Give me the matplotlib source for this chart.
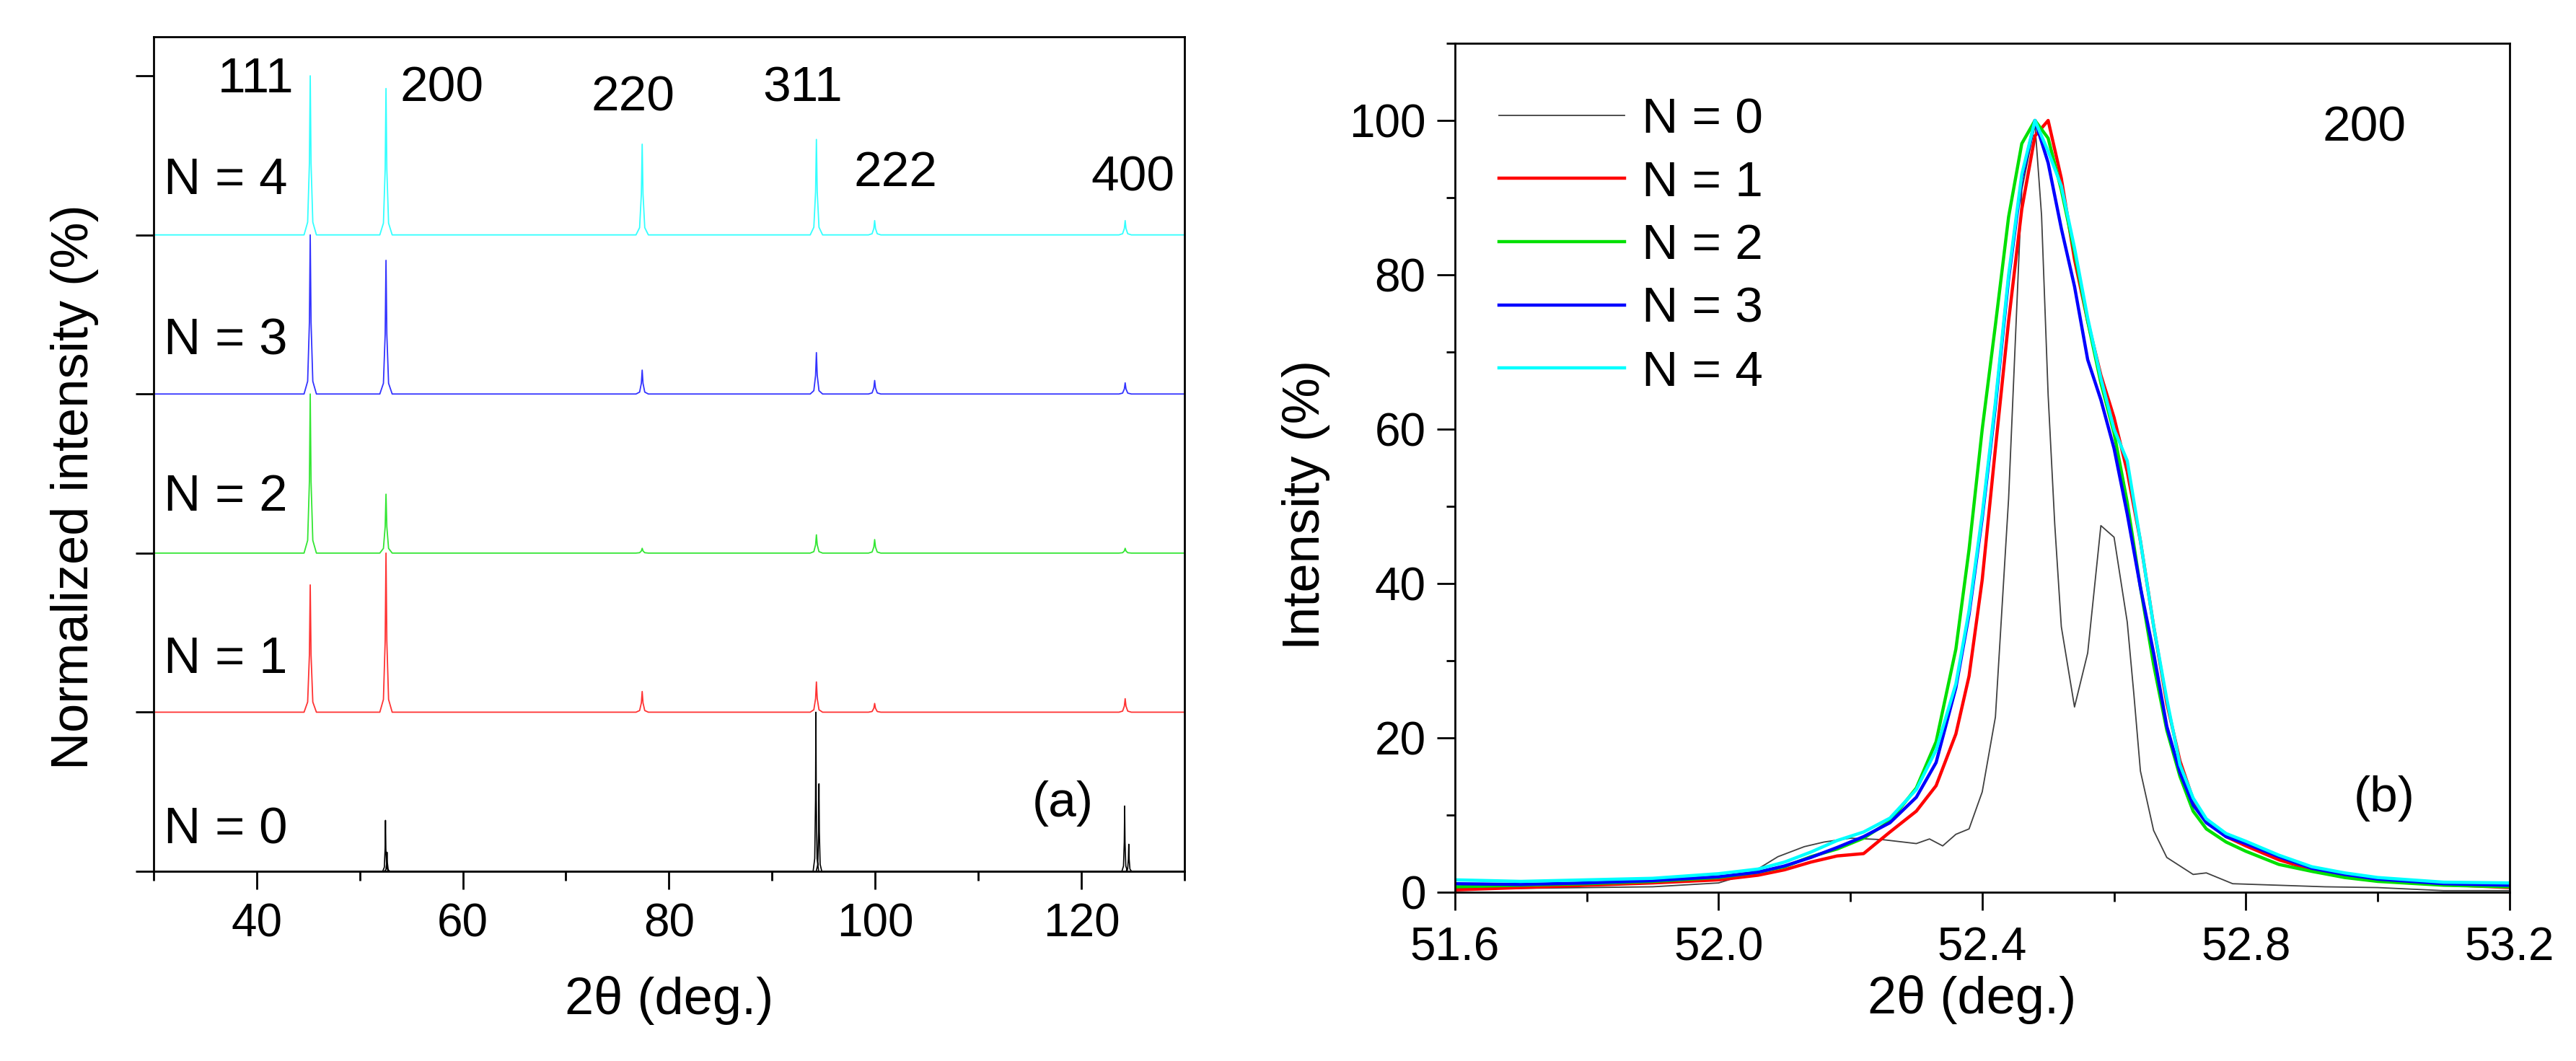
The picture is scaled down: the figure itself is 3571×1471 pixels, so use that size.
import numpy as np
import matplotlib
matplotlib.use("Agg")
import matplotlib.pyplot as plt
from matplotlib.ticker import MultipleLocator, FormatStrFormatter

plt.rcParams["font.family"] = ["Liberation Sans", "DejaVu Sans"]

# ---------------- data: panel (a) ----------------
labels_n = ["N = 0", "N = 1", "N = 2", "N = 3", "N = 4"]
offsets = [0, 100, 200, 300, 400]
hkl = ["111", "200", "220", "311", "222", "400"]
peak_pos = [45.2, 52.55, 77.4, 94.3, 99.95, 124.25]
# peak heights (% of each pattern's max)
h_n1 = [80, 100, 13, 19, 5.5, 8.5]
h_n2 = [100, 37, 3, 11.5, 8.5, 3]
h_n3 = [100, 84, 15, 26, 8.5, 7]
h_n4 = [100, 92, 57, 60, 9, 9]
# N = 0 is sharp, with the K-alpha2 companions visible
n0_pos = [52.5, 52.65, 94.25, 94.55, 124.2, 124.6]
n0_h = [32, 12, 100, 55, 41, 17]

# ---------------- data: panel (b) ----------------
x_b = [51.60, 51.70, 51.80, 51.90, 52.00, 52.06, 52.10, 52.14, 52.18, 52.22,
       52.26, 52.30, 52.33, 52.36, 52.38, 52.40, 52.42, 52.44, 52.46, 52.48,
       52.50, 52.52, 52.54, 52.56, 52.58, 52.60, 52.62, 52.64, 52.66, 52.68,
       52.70, 52.72, 52.74, 52.77, 52.80, 52.85, 52.90, 52.95, 53.00, 53.10,
       53.20]
y_n1 = [0.3, 0.6, 0.9, 1.2, 1.6, 2.2, 2.9, 3.9, 4.7, 5.0,
        7.8, 10.5, 13.8, 20.5, 28.0, 40.5, 57.5, 74.0, 88.5, 98.0,
        100.0, 92.5, 82.0, 74.0, 67.0, 61.5, 54.5, 45.5, 34.5, 24.5,
        17.0, 12.0, 9.2, 7.2, 6.0, 4.2, 2.9, 2.1, 1.5, 1.0,
        0.6]
y_n2 = [0.7, 0.9, 1.1, 1.4, 1.9, 2.6, 3.3, 4.6, 5.6, 7.0,
        9.2, 13.5, 19.5, 31.5, 44.4, 60.0, 73.5, 87.5, 97.0, 100.0,
        97.7, 91.0, 83.0, 74.0, 66.0, 59.5, 50.5, 39.5, 29.5, 21.0,
        15.0, 10.5, 8.2, 6.5, 5.3, 3.6, 2.7, 1.9, 1.4, 0.9,
        0.7]
y_n3 = [1.1, 1.0, 1.2, 1.5, 2.0, 2.6, 3.4, 4.5, 5.8, 7.2,
        9.0, 12.3, 16.8, 26.5, 36.0, 48.5, 63.0, 79.5, 92.5, 100.0,
        94.5, 86.0, 78.5, 69.0, 63.8, 57.5, 49.0, 39.5, 31.0, 21.5,
        15.5, 11.3, 9.0, 7.2, 6.3, 4.6, 3.1, 2.3, 1.7, 1.1,
        0.9]
y_n4 = [1.6, 1.4, 1.6, 1.8, 2.4, 3.0, 3.9, 5.2, 6.7, 7.8,
        9.6, 13.3, 18.4, 27.0, 36.5, 49.0, 63.5, 80.0, 93.0, 100.0,
        96.0, 91.5, 83.5, 74.4, 66.6, 60.0, 55.9, 45.5, 34.5, 25.0,
        16.5, 12.2, 9.5, 7.6, 6.6, 4.8, 3.3, 2.5, 1.9, 1.3,
        1.2]
x_n0 = [51.60, 51.70, 51.80, 51.90, 52.00, 52.05, 52.09, 52.13, 52.16, 52.20,
        52.25, 52.30, 52.32, 52.34, 52.36, 52.38, 52.40, 52.42, 52.44, 52.46,
        52.48, 52.49, 52.50, 52.51, 52.52, 52.54, 52.56, 52.58, 52.60, 52.62,
        52.63, 52.64, 52.66, 52.68, 52.72, 52.74, 52.78, 52.85, 52.92, 53.00,
        53.10, 53.20]
y_n0 = [0.5, 0.5, 0.6, 0.7, 1.2, 2.5, 4.6, 5.9, 6.5, 7.0,
        6.8, 6.3, 6.9, 6.0, 7.5, 8.2, 13.0, 22.7, 51.0, 91.0,
        99.5, 87.7, 64.4, 47.7, 34.4, 24.0, 31.0, 47.5, 46.0, 35.0,
        25.7, 15.7, 8.0, 4.5, 2.3, 2.5, 1.1, 0.9, 0.7, 0.6,
        0.2, 0.2]

colors = ["black", "#FF0000", "#00E000", "#0000FF", "#00FFFF"]

# peak outline used to draw the stick-like reflections in (a)
shape_dx = np.array([-0.6, -0.25, -0.08, 0.0, 0.08, 0.25, 0.6])
shape_f = np.array([0.0, 0.08, 0.45, 1.0, 0.45, 0.08, 0.0])


def pattern(pos, heights, base, scale=1.0):
    xs = [29.0]
    ys = [base]
    order = np.argsort(pos)
    for i in order:
        xs.extend(pos[i] + shape_dx * scale)
        ys.extend(base + heights[i] * shape_f)
    xs.append(131.0)
    ys.append(base)
    return np.array(xs), np.array(ys)


fig = plt.figure(figsize=(35.71, 14.71), dpi=100)
ax1 = fig.add_axes([0.0596, 0.1788, 0.4002, 0.7865])
ax2 = fig.add_axes([0.5648, 0.1591, 0.4094, 0.8001])

# ---------------- panel (a) ----------------
xa, ya = pattern(n0_pos, n0_h, offsets[0], scale=0.45)
ax1.plot(xa, ya, color=colors[0], lw=1.2)
for k, h in enumerate([h_n1, h_n2, h_n3, h_n4], start=1):
    xa, ya = pattern(peak_pos, h, offsets[k])
    ax1.plot(xa, ya, color=colors[k], lw=1.3, alpha=0.8)

ax1.set_xlim(30, 130)
ax1.set_ylim(0, 524.5)
ax1.xaxis.set_major_locator(MultipleLocator(20))
ax1.xaxis.set_minor_locator(MultipleLocator(10))
ax1.set_yticks(offsets + [500])
ax1.set_yticklabels([])

n_label_y = [25.4, 132.8, 235, 333, 434]
for lab, yy in zip(labels_n, n_label_y):
    ax1.text(31.0, yy, lab, fontsize=51, ha="left", va="center")

hkl_xy = [(39.9, 497.7), (58.0, 492), (76.5, 486), (93.0, 492), (102.0, 439), (125.0, 436)]
for lab, (xx, yy) in zip(hkl, hkl_xy):
    ax1.text(xx, yy, lab, fontsize=50, ha="center", va="center")
ax1.text(118.2, 42.6, "(a)", fontsize=50, ha="center", va="center")

ax1.set_xlabel("2\u03b8 (deg.)", fontsize=52)
ax1.set_ylabel("Normalized intensity (%)", fontsize=52)
ax1.xaxis.set_label_coords(0.5, -0.125)
ax1.yaxis.set_label_coords(-0.053, 0.461)

# ---------------- panel (b) ----------------
ax2.plot(x_n0, y_n0, color="#404040", lw=1.3, label=labels_n[0])
for k, yy in enumerate([y_n1, y_n2, y_n3, y_n4], start=1):
    ax2.plot(x_b, yy, color=colors[k], lw=3.2, label=labels_n[k])

ax2.set_xlim(51.6, 53.2)
ax2.set_ylim(0, 110)
ax2.xaxis.set_major_locator(MultipleLocator(0.4))
ax2.xaxis.set_minor_locator(MultipleLocator(0.2))
ax2.xaxis.set_major_formatter(FormatStrFormatter("%.1f"))
ax2.yaxis.set_major_locator(MultipleLocator(20))
ax2.yaxis.set_minor_locator(MultipleLocator(10))

ax2.text(52.98, 99, "200", fontsize=50, ha="center", va="center")
ax2.text(53.01, 12.1, "(b)", fontsize=50, ha="center", va="center")

ax2.legend(loc="upper left", bbox_to_anchor=(0.042, 0.937), frameon=False,
           fontsize=50, handlelength=2.5, handletextpad=0.35,
           labelspacing=0.34, borderpad=0.0, borderaxespad=0.0)

ax2.set_xlabel("2\u03b8 (deg.)", fontsize=52)
ax2.set_ylabel("Intensity (%)", fontsize=52)
ax2.xaxis.set_label_coords(0.49, -0.098)
ax2.yaxis.set_label_coords(-0.118, 0.456)

for ax in (ax1, ax2):
    for sp in ax.spines.values():
        sp.set_linewidth(2.0)
    ax.tick_params(which="both", direction="out", top=False, right=False,
                   width=2.0, labelsize=46)
    ax.tick_params(which="major", length=18)
    ax.tick_params(which="minor", length=9)

ax1.tick_params(axis="x", which="both", pad=13)
ax2.tick_params(axis="x", which="both", pad=16)
ax2.tick_params(axis="y", which="both", pad=11)

fig.savefig("out.png", dpi=100)
